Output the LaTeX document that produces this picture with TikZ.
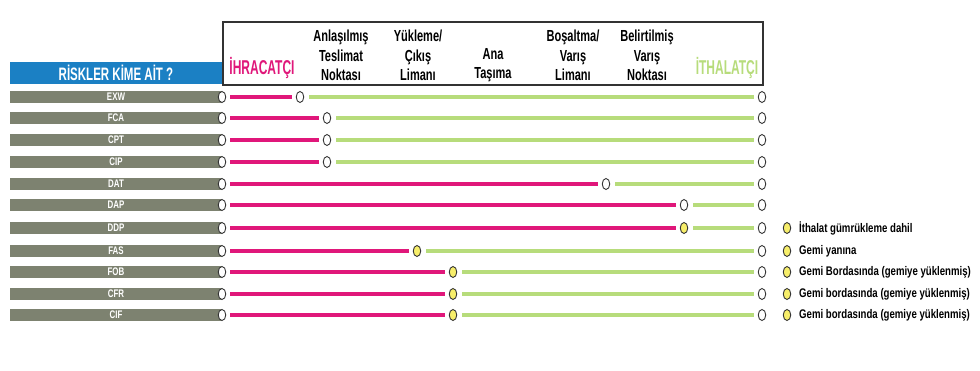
\documentclass[tikz,border=0pt]{standalone}
\usepackage{fontspec}
\usetikzlibrary{shapes.geometric}
\newfontfamily\condbig{Liberation Sans}[UprightFont={* Bold},FakeStretch=0.60]
\newfontfamily\condtitle{Liberation Sans}[UprightFont={* Bold},FakeStretch=0.64]
\newfontfamily\condhdr{Liberation Sans}[UprightFont={* Bold},FakeStretch=0.69]
\newfontfamily\cond{Liberation Sans}[UprightFont={* Bold},FakeStretch=0.72]
\newfontfamily\condleg{Liberation Sans}[UprightFont={* Bold},FakeStretch=0.77]
\definecolor{magc}{HTML}{E0177A}
\definecolor{grnc}{HTML}{B7DC7B}
\definecolor{greybar}{HTML}{7D8270}
\definecolor{bluec}{HTML}{1B80C4}
\definecolor{yelc}{HTML}{F7EE6A}
\definecolor{dark}{HTML}{333333}
\begin{document}
\begin{tikzpicture}[x=1pt,y=-1pt,
  circ/.style={ellipse,draw=dark,line width=0.9pt,fill=white,minimum width=7.5pt,minimum height=11pt,inner sep=0pt},
  ycirc/.style={circ,fill=yelc},
  magline/.style={draw=magc,line width=4.2pt,shorten <=4pt,shorten >=3.5pt},
  grnline/.style={draw=grnc,line width=4.6pt,shorten <=5pt,shorten >=3.5pt},
  rowbar/.style={fill=greybar,minimum width=212pt,minimum height=12.5pt,inner sep=0pt,text=white,font=\cond\fontsize{11}{11}\selectfont},
  hdr/.style={align=center,font=\condhdr\fontsize{16}{19.5}\selectfont,text=black},
  big/.style={font=\condbig\fontsize{20}{20}\selectfont},
  legtext/.style={anchor=west,inner sep=0pt,font=\condleg\fontsize{12.5}{12.5}\selectfont}
]
\useasboundingbox (0,0) rectangle (980,370);
\fill[white] (0,0) rectangle (980,370);

% header
\node[fill=bluec,minimum width=212pt,minimum height=22pt,inner sep=0pt,text=white,font=\condtitle\fontsize{18}{18}\selectfont] (title) at (116,73) {RİSKLER KİME AİT ?};
\node[draw=dark,line width=1.4pt,minimum width=540pt,minimum height=63pt,inner sep=0pt] (hbox) at (493,53.5) {};
\node[big,text=magc] (ihr) at (262,68) {İHRACATÇI};
\node[hdr] (h1) at (341,55.5) {Anlaşılmış\\Teslimat\\Noktası};
\node[hdr] (h2) at (418,55.5) {Yükleme/\\Çıkış\\Limanı};
\node[hdr] (h3) at (493,65) {Ana\\Taşıma};
\node[hdr] (h4) at (573,55.5) {Boşaltma/\\Varış\\Limanı};
\node[hdr] (h5) at (647,55.5) {Belirtilmiş\\Varış\\Noktası};
\node[big,text=grnc] (ith) at (727,68) {İTHALATÇI};

% rows
\foreach \i/\lab/\yy/\mx/\st in {1/EXW/97/300/circ,2/FCA/118/327/circ,3/CPT/140/327/circ,4/CIP/162/327/circ,5/DAT/184/606/circ,6/DAP/205/684/circ,7/DDP/228/684/ycirc,8/FAS/251/417/ycirc,9/FOB/272/453/ycirc,10/CFR/294/453/ycirc,11/CIF/315/453/ycirc}{
  \node[rowbar] (b\i) at (116,\yy) {\lab};
  \node[circ] (s\i) at (222,\yy) {};
  \node[\st] (m\i) at (\mx,\yy) {};
  \node[circ] (e\i) at (762,\yy) {};
  \draw[magline] (s\i) -- (m\i);
  \draw[grnline] (m\i) -- (e\i);
}

% legend
\foreach \i/\yy/\txt in {7/228/İthalat gümrükleme dahil,8/251/Gemi yanına,9/272/Gemi Bordasında (gemiye yüklenmiş),10/294/Gemi bordasında (gemiye yüklenmiş),11/315/Gemi bordasında (gemiye yüklenmiş)}{
  \node[ycirc] (l\i) at (787,\yy) {};
  \node[legtext] (t\i) at (799,\yy) {\txt};
}
\end{tikzpicture}
\end{document}
